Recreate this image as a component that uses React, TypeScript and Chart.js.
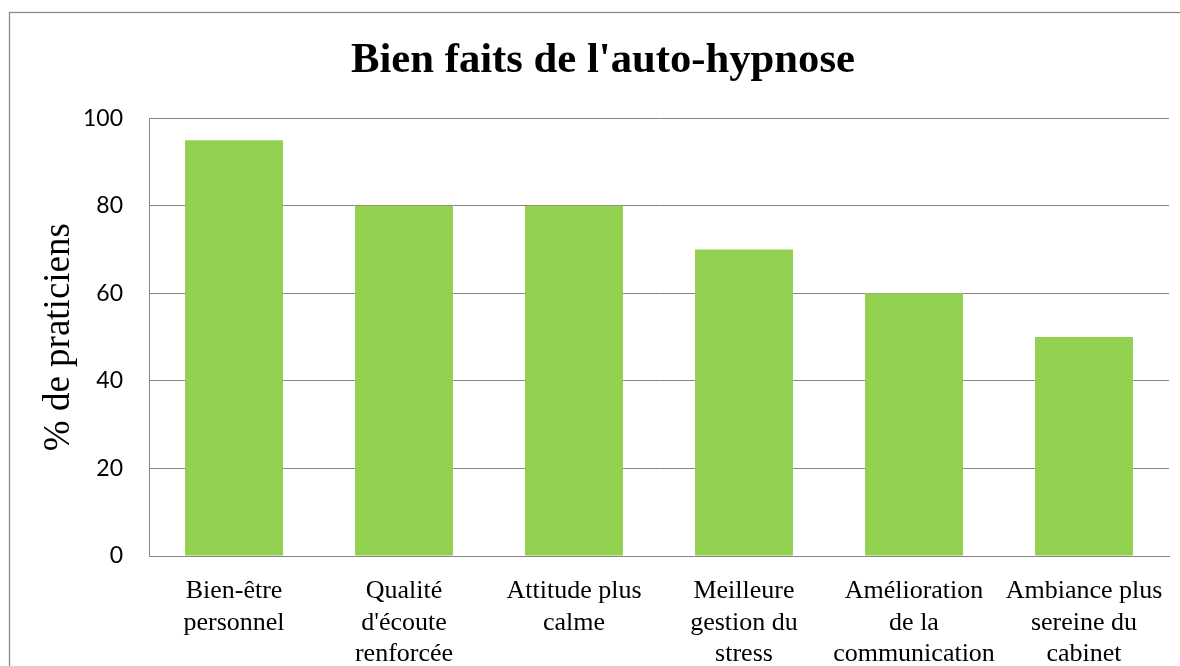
import React, { useEffect, useRef } from "react";
import { Chart, registerables } from "chart.js";

Chart.register(...registerables);

const titleText = "Bien faits de l'auto-hypnose";
const yAxisTitle = "% de praticiens";
const categories: string[][] = [
  ["Bien-être", "personnel"],
  ["Qualité", "d'écoute", "renforcée"],
  ["Attitude plus", "calme"],
  ["Meilleure", "gestion du", "stress"],
  ["Amélioration", "de la", "communication"],
  ["Ambiance plus", "sereine du", "cabinet"],
];
const values: number[] = [95, 80, 80, 70, 60, 50];
const yTicks = { min: 0, max: 100, step: 20 };

const framePlugin = {
  id: "outerFrame",
  beforeDraw(chart: any) {
    const ctx = chart.ctx;
    ctx.save();
    ctx.fillStyle = "#ffffff";
    ctx.fillRect(0, 0, chart.width, chart.height);
    ctx.strokeStyle = "#8a8a8a";
    ctx.lineWidth = 1.3;
    ctx.strokeRect(9.5, 12.5, chart.width + 40, chart.height + 40);
    ctx.restore();
  },
};

export default function App() {
  const ref = useRef<HTMLCanvasElement | null>(null);
  useEffect(() => {
    if (!ref.current) return;
    const chart = new Chart(ref.current, {
      type: "bar",
      data: {
        labels: categories,
        datasets: [
          {
            data: values,
            backgroundColor: "#92D050",
            borderWidth: 0,
            categoryPercentage: 1,
            barPercentage: 0.576,
          },
        ],
      },
      options: {
        animation: false,
        responsive: false,
        devicePixelRatio: 1,
        layout: { padding: { left: 37, right: 11, top: 0, bottom: 0 } },
        plugins: {
          legend: { display: false },
          tooltip: { enabled: false },
          title: {
            display: true,
            text: titleText,
            color: "#000000",
            font: { family: "'Liberation Serif', 'Times New Roman', serif", size: 42.7, weight: "bold", lineHeight: 1.2 },
            padding: { top: 35, bottom: 32 },
          },
        },
        scales: {
          x: {
            grid: { display: false, drawTicks: false },
            border: { display: true, color: "#868686", width: 1 },
            ticks: {
              color: "#000000",
              font: { family: "'Liberation Serif', 'Times New Roman', serif", size: 26, lineHeight: 1.2 },
              padding: 20,
              maxRotation: 0,
              minRotation: 0,
              autoSkip: false,
            },
            afterFit(scale: any) {
              scale.height = 110;
              scale.paddingLeft = 0;
              scale.paddingRight = 0;
            },
          },
          y: {
            min: yTicks.min,
            max: yTicks.max,
            grid: { color: "#868686", lineWidth: 1, drawTicks: false },
            border: { display: true, color: "#868686", width: 1 },
            ticks: {
              stepSize: yTicks.step,
              color: "#000000",
              font: { family: "Lato, 'Liberation Sans', sans-serif", size: 23 },
              padding: 26,
            },
            title: {
              display: true,
              text: yAxisTitle,
              color: "#000000",
              font: { family: "'Liberation Serif', 'Times New Roman', serif", size: 37, lineHeight: 1.2 },
              padding: 0,
            },
            afterFit(scale: any) {
              scale.width = 112;
            },
          },
        },
      },
      plugins: [framePlugin],
    });
    return () => chart.destroy();
  }, []);
  return (
    <div style={{ position: "absolute", left: 0, top: 0, width: 1180, height: 666 }}>
      <canvas ref={ref} width={1180} height={666} style={{ display: "block", width: 1180, height: 666 }} />
    </div>
  );
}
